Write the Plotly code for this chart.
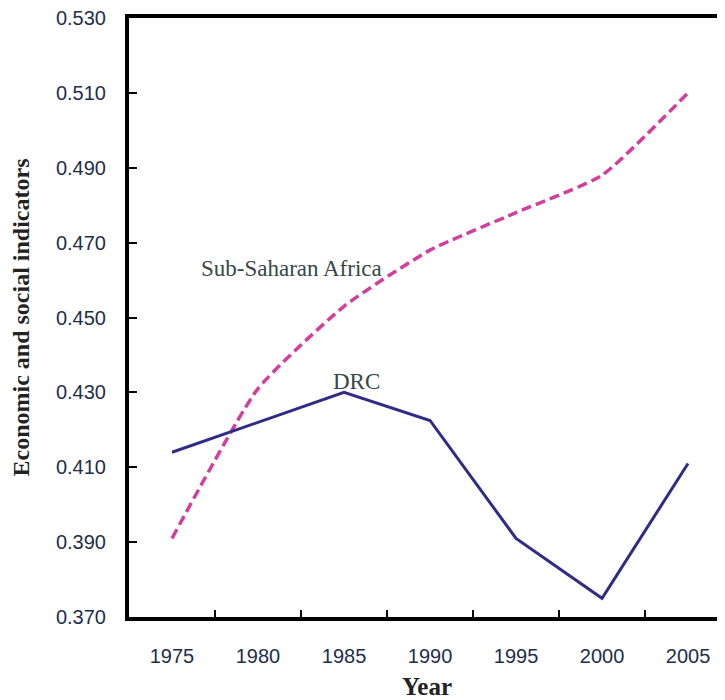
import plotly.graph_objects as go

years = ["1975", "1980", "1985", "1990", "1995", "2000", "2005"]
drc = [0.414, 0.422, 0.430, 0.4225, 0.391, 0.375, 0.411]
ssa = [0.391, 0.431, 0.453, 0.468, 0.478, 0.488, 0.510]
y_ticks = [0.370, 0.390, 0.410, 0.430, 0.450, 0.470, 0.490, 0.510, 0.530]

xpos = list(range(len(years)))

fig = go.Figure()
fig.add_trace(go.Scatter(
    x=xpos, y=ssa, mode="lines", name="Sub-Saharan Africa",
    line=dict(color="#D23E9E", width=3.5, dash="10px,5px", shape="spline", smoothing=0.5),
))
fig.add_trace(go.Scatter(
    x=xpos, y=drc, mode="lines", name="DRC",
    line=dict(color="#2E2C84", width=3),
))

fig.add_annotation(x=1.384, y=0.4632, xref="x", yref="y", text="Sub-Saharan Africa",
                   showarrow=False, font=dict(family="Liberation Serif", size=23, color="#344848"))
fig.add_annotation(x=2.14, y=0.4328, xref="x", yref="y", text="DRC",
                   showarrow=False, font=dict(family="Liberation Serif", size=23, color="#344848"))

tick_font = dict(family="Liberation Sans", size=20, color="#1E2E4A")

fig.update_layout(
    width=725, height=700,
    margin=dict(l=121, r=8, t=10, b=91),
    paper_bgcolor="white", plot_bgcolor="white",
    showlegend=False,
    xaxis=dict(
        range=[-0.5, 6.43],
        tickmode="array", tickvals=xpos, ticktext=years,
        ticks="", tickfont=tick_font,
        ticklabelstandoff=18, ticklabeloverflow="allow",
        showgrid=False, zeroline=False, automargin=False,
        showline=True, linecolor="black", linewidth=4, mirror=True,
        minor=dict(tickmode="array", tickvals=[i + 0.5 for i in xpos[:-1]],
                   ticks="inside", ticklen=7, tickwidth=2, tickcolor="black", showgrid=False),
        title=dict(text="Year", font=dict(family="Liberation Serif", size=25, color="#222222", weight="bold"),
                   standoff=12),
    ),
    yaxis=dict(
        range=[0.370, 0.530],
        tickmode="array", tickvals=y_ticks, ticktext=[f"{v:.3f}" for v in y_ticks],
        ticks="inside", ticklen=8, tickwidth=2, tickcolor="black",
        tickfont=tick_font,
        ticklabelstandoff=15, ticklabeloverflow="allow",
        showgrid=False, zeroline=False, automargin=False,
        showline=True, linecolor="black", linewidth=4, mirror=False,
        title=dict(text="Economic and social indicators",
                   font=dict(family="Liberation Serif", size=24, color="#222222", weight="bold"),
                   standoff=25),
    ),
)

fig.write_html("out.html")
